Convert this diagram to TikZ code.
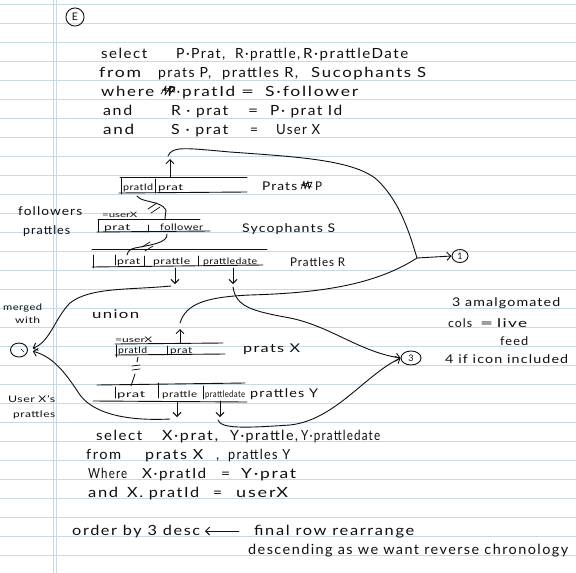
\documentclass[tikz,border=0pt]{standalone}
\usepackage{fontspec}
\setmainfont{Lato}
\usetikzlibrary{arrows.meta,shapes.geometric}
\definecolor{rulecol}{RGB}{198,219,229}
\definecolor{inkcol}{RGB}{15,15,15}
\newcommand{\hw}[2]{\resizebox{#1pt}{\height}{#2}}
\begin{document}
\begin{tikzpicture}[x=1pt,y=-1pt,
  penline/.style={draw=inkcol, line width=0.9pt, line cap=round, line join=round},
  penarrow/.style={penline, -{Straight Barb[length=4pt,width=8pt]}},
  txtbase/.style={anchor=base west, inner sep=0, text=inkcol},
  tbig/.style={txtbase, font=\fontsize{14}{16}\selectfont\addfontfeature{LetterSpace=10}},
  tmid/.style={txtbase, font=\fontsize{12}{14}\selectfont\addfontfeature{LetterSpace=8}},
  tsml/.style={txtbase, font=\fontsize{9}{11}\selectfont\addfontfeature{LetterSpace=4}},
  ttin/.style={txtbase, font=\fontsize{7.5}{9}\selectfont},
  ringnode/.style={penline, ellipse, inner sep=0, text=inkcol, font=\fontsize{9}{10}\selectfont}]
\useasboundingbox (0,0) rectangle (576,573);
\fill[white] (0,0) rectangle (576,573);
% ruled paper
\foreach \k in {0,...,29} \draw[rulecol, line width=1pt] (0,{4+19.02*\k}) -- (576,{4+19.02*\k});
\draw[rulecol, line width=1pt] (53.5,0) -- (53.5,573);
\draw[rulecol, line width=1pt] (56.5,0) -- (56.5,573);

% circled E
\node[penline, circle, inner sep=3pt, text=inkcol, font=\fontsize{10.5}{12}\selectfont] (E) at (75,17) {E};

% ---------- query 1 ----------
\node[tbig] (q1a) at (101,58) {\hw{46}{select}};
\node[tbig] (q1b) at (176,58) {\hw{49}{P·Prat,}};
\node[tbig] (q1c) at (235,58) {\hw{65}{R·prattle,}};
\node[tbig] (q1d) at (303,58) {\hw{105}{R·prattleDate}};
\node[tbig] (q2a) at (99,77) {\hw{42}{from}};
\node[tbig] (q2b) at (158,77) {\hw{53}{prats P,}};
\node[tbig] (q2c) at (222,77) {\hw{76}{prattles R,}};
\node[tbig] (q2d) at (311,77) {\hw{115}{Sucophants S}};
\node[tbig] (q3a) at (101,96) {\hw{53}{where}};
\node[tbig] (q3b) at (168,96) {\hw{12}{P·}};
\node[tbig] (q3c) at (182,96) {\hw{53}{pratId}};
\node[tbig] (q3d) at (241,96) {\hw{13}{=}};
\node[tbig] (q3e) at (265,96) {\hw{93}{S·follower}};
\node[tbig] (q4a) at (103,115) {\hw{29}{and}};
\node[tbig] (q4b) at (171,115) {\hw{57}{R · prat}};
\node[tbig] (q4c) at (248,115) {\hw{10}{=}};
\node[tbig] (q4d) at (270,115) {\hw{72}{P· prat Id}};
\node[tbig] (q5a) at (103,134) {\hw{31}{and}};
\node[tbig] (q5b) at (171,134) {\hw{57}{S · prat}};
\node[tbig] (q5c) at (250,134) {\hw{8}{=}};
\node[tbig] (q5d) at (276,134) {\hw{44}{User X}};
% scribble over P in "where"
\draw[penline, line width=0.7pt] (161,94) -- (166,86) -- (165,95) -- (171,86) -- (169,95) -- (175,87) -- (162,90) -- (175,92);

% ---------- table Prats P ----------
\draw[penline] (120,177) -- (247,177);
\draw[penline] (119,193) -- (247,192);
\draw[penline] (121,178) -- (121,194);
\draw[penline] (155,179) -- (155,193);
\node[tsml] (Pid) at (123,190) {\hw{30}{pratId}};
\node[tsml] (Ppr) at (158,190) {\hw{25}{prat}};
\node[tmid] (Plab) at (262,190) {\hw{35}{Prats}};
\node[tmid] (Plab2) at (315,190) {\hw{7}{P}};
\draw[penline, line width=0.7pt] (301,189) -- (304,181) -- (305,189) -- (308,181) -- (309,189) -- (312,182) -- (301,185) -- (312,187);
\coordinate (Pbot) at (170,177);
\coordinate (Ptip) at (170,159);
\draw[penarrow] (Pbot) -- (Ptip);

% ---------- table Sycophants S ----------
\node[ttin] (Seq) at (102,217) {\hw{35}{=userX}};
\draw[penline] (98,219) -- (200,219);
\draw[penline] (97,232) -- (210,231);
\draw[penline] (98,220) -- (98,232);
\draw[penline] (148,225) -- (148,232);
\node[tsml] (Spr) at (104,230) {\hw{26}{prat}};
\node[tsml] (Sfo) at (160,230) {\hw{43}{follower}};
\node[tmid] (Slab) at (242,232) {\hw{93}{Sycophants S}};
\node[tmid] (fol1) at (18,215) {\hw{64}{followers}};
\node[tmid] (fol2) at (23,234) {\hw{47}{prattles}};

% links P -> S -> R
\coordinate (PidB) at (137,196);
\coordinate (SfoT) at (165,219);
\draw[penline] (PidB) .. controls (142,203) and (160,200) .. (166,210) -- (SfoT);
\draw[penline, line width=0.7pt] (148,209) -- (157,203);
\draw[penline, line width=0.7pt] (151,213) -- (160,207);
\coordinate (SfoB) at (167,234);
\coordinate (RprT) at (127,255);
\draw[penline] (SfoB) .. controls (168,243) and (150,245) .. (135,248) .. controls (130,249) and (128,251) .. (RprT);
\draw[penline, line width=0.7pt] (142,247) -- (150,242);
\draw[penline, line width=0.7pt] (145,251) -- (153,246);

% ---------- table Prattles R ----------
\draw[penline] (92,249) -- (267,249);
\draw[penline] (92,267) -- (263,265);
\draw[penline] (93,255) -- (93,268);
\draw[penline] (115,255) -- (115,265);
\draw[penline] (144,256) -- (144,266);
\draw[penline] (198,256) -- (198,266);
\node[tsml] (Rpr) at (117,264) {\hw{23}{prat}};
\node[tsml] (Rpt) at (153,264) {\hw{37}{prattle}};
\node[tsml] (Rpd) at (203,264) {\hw{54}{prattledate}};
\node[tmid] (Rlab) at (290,266) {\hw{55}{Prattles R}};
\coordinate (RptB) at (175,268);
\coordinate (RptT) at (175,284);
\coordinate (RpdB) at (233,268);
\coordinate (RpdT) at (233,284);
\draw[penarrow] (RptB) -- (RptT);
\draw[penarrow] (RpdB) -- (RpdT);

% ---------- circles ----------
\node[ringnode, minimum width=16pt, minimum height=13pt] (c1) at (460,256) {1};
\node[ringnode, minimum width=20pt, minimum height=14pt] (c3) at (411,358) {3};
\node[ringnode, minimum width=17pt, minimum height=14pt] (cL) at (19,350) {};
\draw[penline, line width=0.7pt] (21,349) -- (24,352);

% curve A: P.prat -> 1
\coordinate (A0) at (168,156);
\coordinate (J1) at (417,258);
\draw[penline] (A0) .. controls (172,146) and (185,148) .. (230,152) .. controls (300,157) and (350,160) .. (375,178) .. controls (400,200) and (410,235) .. (J1);
\draw[penarrow] (J1) -- (c1.west);

% ---------- union part ----------
\node[tmid] (uni) at (92,318) {\hw{47}{union}};
\node[tsml] (mg1) at (3,310) {\hw{39}{merged}};
\node[tsml] (mg2) at (15,323) {\hw{25}{with}};
\node[tsml] (ux1) at (8,402) {\hw{47}{User X's}};
\node[tsml] (ux2) at (13,417) {\hw{42}{prattles}};

% table prats X
\node[ttin] (Xeq) at (115,342) {\hw{37}{=userX}};
\draw[penline] (115,344) -- (223,343);
\draw[penline] (115,355) -- (225,354);
\draw[penline] (116,345) -- (116,357);
\draw[penline] (167,346) -- (167,355);
\node[tsml] (Xid) at (118,353) {\hw{29}{pratId}};
\node[tsml] (Xpr) at (170,353) {\hw{22}{prat}};
\node[tmid] (Xlab) at (243,352) {\hw{57}{prats X}};
\coordinate (Xbot) at (180,343);
\coordinate (Xtip) at (180,329);
\draw[penarrow] (Xbot) -- (Xtip);
% curve B: X.prat -> 1
\coordinate (B0) at (180,323);
\draw[penline] (B0) .. controls (186,304) and (205,297) .. (250,295) .. controls (320,293) and (375,285) .. (J1);

% link X -> Y
\coordinate (XidB) at (138,357);
\coordinate (YprT) at (131,386);
\draw[penline] (XidB) -- (137,362);
\draw[penline, line width=0.7pt] (132,366) -- (140,365);
\draw[penline, line width=0.7pt] (132,370) -- (140,369);
\draw[penline] (135,374) -- (YprT);

% table prattles Y
\draw[penline] (97,385) -- (245,383);
\draw[penline] (93,401) -- (247,402);
\draw[penline] (115,387) -- (115,398);
\draw[penline] (158,383) -- (158,398);
\draw[penline] (203,386) -- (203,399);
\node[tsml] (Ypr) at (117,397) {\hw{28}{prat}};
\node[tsml] (Ypt) at (162,397) {\hw{35}{prattle}};
\node[tsml] (Ypd) at (205,397) {\hw{40}{prattledate}};
\node[tmid] (Ylab) at (250,397) {\hw{68}{prattles Y}};
\coordinate (YptB) at (177,402);
\coordinate (YptT) at (177,417);
\coordinate (YpdB) at (220,401);
\coordinate (YpdT) at (220,417);
\draw[penarrow] (YptB) -- (YptT);
\draw[penarrow] (YpdB) -- (YpdT);

% curves to left circle
\coordinate (C0) at (171,286);
\draw[penarrow, shorten >=5pt] (C0) .. controls (130,290) and (90,287) .. (70,303) .. controls (55,318) and (50,342) .. (cL.east);
\coordinate (D0) at (170,419);
\draw[penarrow, shorten >=5pt] (D0) .. controls (130,421) and (95,415) .. (80,395) .. controls (68,377) and (55,357) .. (cL.east);
% curves to 3
\coordinate (E0) at (233,287);
\draw[penarrow] (E0) .. controls (236,307) and (252,311) .. (290,318) .. controls (330,326) and (360,352) .. (c3.west);
\coordinate (F0) at (218,420);
\draw[penarrow] (F0) .. controls (221,429) and (245,428) .. (290,425) .. controls (335,420) and (365,375) .. (c3.west);

% right notes
\node[tmid] (n1) at (452,306) {\hw{108}{3 amalgomated}};
\node[tmid] (n2a) at (448,327) {\hw{24}{cols}};
\node[tmid] (n2b) at (480,327) {\hw{13}{=}};
\node[tmid] (n2c) at (497,327) {\hw{30}{live}};
\node[tmid] (n3) at (500,345) {\hw{28}{feed}};
\node[tmid] (n4) at (445,363) {\hw{123}{4 if icon included}};

% ---------- query 2 ----------
\node[tbig] (r1a) at (96,440) {\hw{46}{select}};
\node[tbig] (r1b) at (162,440) {\hw{56}{X·prat,}};
\node[tbig] (r1c) at (230,440) {\hw{68}{Y·prattle,}};
\node[tbig] (r1d) at (301,440) {\hw{79}{Y·prattledate}};
\node[tbig] (r2a) at (86,459) {\hw{35}{from}};
\node[tbig] (r2b) at (145,459) {\hw{58}{prats X}};
\node[tbig] (r2bc) at (216,459) {,};
\node[tbig] (r2c) at (228,459) {\hw{62}{prattles Y}};
\node[tbig] (r3a) at (88,478) {\hw{39}{Where}};
\node[tbig] (r3b) at (142,478) {\hw{64}{X·pratId}};
\node[tbig] (r3c) at (221,478) {\hw{9}{=}};
\node[tbig] (r3d) at (241,478) {\hw{55}{Y·prat}};
\node[tbig] (r4a) at (88,497) {\hw{30}{and}};
\node[tbig] (r4b) at (127,497) {\hw{72}{X. pratId}};
\node[tbig] (r4c) at (213,497) {\hw{9}{=}};
\node[tbig] (r4d) at (236,497) {\hw{52}{userX}};
\node[tbig] (o1) at (72,535) {\hw{128}{order by 3 desc}};
\coordinate (arS) at (239,531);
\coordinate (arE) at (205,531);
\draw[penarrow] (arS) -- (arE);
\node[tbig] (o2) at (254,535) {\hw{160}{final row rearrange}};
\node[tbig] (o3) at (248,554) {\hw{320}{descending as we want reverse chronology}};
\end{tikzpicture}
\end{document}
